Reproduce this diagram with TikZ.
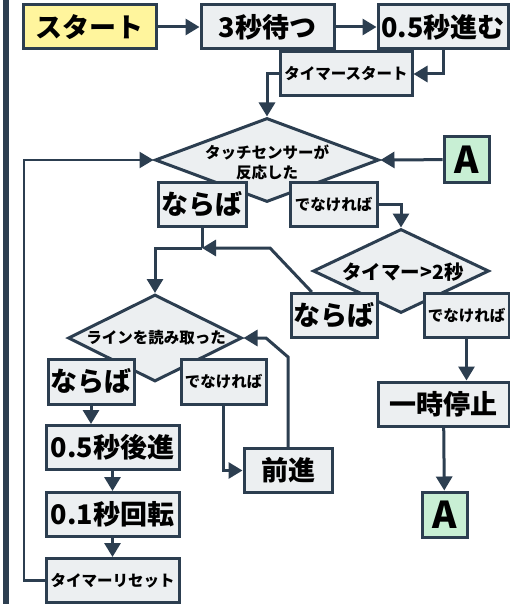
\documentclass[tikz,border=0pt]{standalone}
\usepackage{fontspec}
\setmainfont{Noto Sans CJK JP}[BoldFont={Noto Sans CJK JP Black}]
\usetikzlibrary{shapes.geometric,arrows.meta}
\definecolor{lc}{HTML}{2C3E50}
\definecolor{bx}{HTML}{ECEFF1}
\definecolor{yel}{HTML}{FFF59D}
\definecolor{grn}{HTML}{C8EFD4}
\tikzset{
  box/.style={draw=lc, line width=3pt, fill=bx, inner sep=0pt, minimum height=44pt, text=black, font=\bfseries\fontsize{27}{30}\selectfont},
  sbox/.style={box, font=\bfseries\fontsize{15.5}{18}\selectfont},
  abox/.style={box, fill=grn, minimum width=45pt, minimum height=45pt, font=\bfseries\fontsize{37}{40}\selectfont},
  dia/.style={diamond, draw=lc, line width=3pt, fill=bx, inner sep=0pt},
  dtxt/.style={inner sep=0pt, align=center, text=black, font=\bfseries\fontsize{15.5}{20}\selectfont},
  ln/.style={draw=lc, line width=3pt},
  arr/.style={ln, -{Triangle[length=14pt,width=16pt]}},
}
\begin{document}
\begin{tikzpicture}[x=1pt,y=-1pt]
\useasboundingbox (0,0) rectangle (510,604);
\fill[white] (0,0) rectangle (510,604);
\draw[lc, line width=6pt] (5.5,0) -- (5.5,604);

% diamonds
\node[dia, minimum width=224pt, minimum height=84pt] (d1) at (267,160) {};
\node[dtxt] (d1t) at (267,162) {タッチセンサーが\\反応した};
\node[dia, minimum width=176pt, minimum height=84pt] (d2) at (401,271) {};
\node[dtxt, font=\bfseries\fontsize{19.5}{22}\selectfont] (d2t) at (403,272) {タイマー>2秒};
\node[dia, minimum width=174pt, minimum height=87pt] (d3) at (155,338) {};
\node[dtxt] (d3t) at (156,338) {ラインを読み取った};

% boxes
\node[box, fill=yel, minimum width=133pt] (start) at (89.5,27) {スタート};
\node[box, minimum width=133pt] (wait3) at (267.5,27) {3秒待つ};
\node[box, minimum width=130pt] (fwd05) at (443,27) {0.5秒進む};
\node[sbox, minimum width=132pt] (tstart) at (346,74) {タイマースタート};
\node[abox] (A1) at (466.5,159.5) {A};
\node[box, minimum width=88pt] (yes1) at (202,204.5) {ならば};
\node[sbox, minimum width=87pt] (no1) at (333.5,204.5) {でなければ};
\node[box, minimum width=86pt] (yes2) at (334,315.5) {ならば};
\node[sbox, minimum width=85pt] (no2) at (466.5,315.5) {でなければ};
\node[box, minimum width=131pt] (pause) at (443.5,404) {一時停止};
\node[abox] (A2) at (444.5,514.5) {A};
\node[box, minimum width=86pt, minimum height=45pt] (yes3) at (91,381.5) {ならば};
\node[sbox, minimum width=85pt, minimum height=45pt] (no3) at (223.5,381.5) {でなければ};
\node[box, minimum width=88pt] (fwd) at (288,470.5) {前進};
\node[box, minimum width=133pt] (back) at (112.5,447.5) {0.5秒後進};
\node[box, minimum width=133pt] (rot) at (112.5,514.5) {0.1秒回転};
\node[sbox, minimum width=133pt] (reset) at (112.5,580.5) {タイマーリセット};

% coordinates
\coordinate (j1) at (202,248);
\coordinate (j2) at (270,248);
\coordinate (lpb) at (24,580.5);
\coordinate (lpt) at (24,160);
\coordinate (f1) at (288,357);
\coordinate (f2) at (266,338);

% connectors
\draw[arr] (start) -- (wait3);
\draw[arr] (wait3) -- (fwd05);
\draw[arr] (fwd05.south) |- (tstart.east);
\draw[arr] (tstart.west) -| (d1.north);
\draw[arr] (A1) -- (d1.east);
\draw[arr] (no1.east) -| (d2.north);
\draw[ln] (yes1.south) -- (j1);
\draw[arr] (j1) -| (d3.north);
\draw[arr] (yes2) -- (j2) -- (j1);
\draw[arr] (no2.south) -- (no2.south |- pause.north);
\draw[arr] (pause) -- (A2);
\draw[arr] (yes3.south) -- (yes3.south |- back.north);
\draw[arr] (back) -- (rot);
\draw[arr] (rot) -- (reset);
\draw[arr] (no3.south) |- (fwd.west);
\draw[arr] (fwd.north) -- (f1) -- (f2) -- (d3.east);
\draw[arr, line width=2.5pt] (reset.west) -- (lpb) -- (lpt) -- (d1.west);
\end{tikzpicture}
\end{document}
